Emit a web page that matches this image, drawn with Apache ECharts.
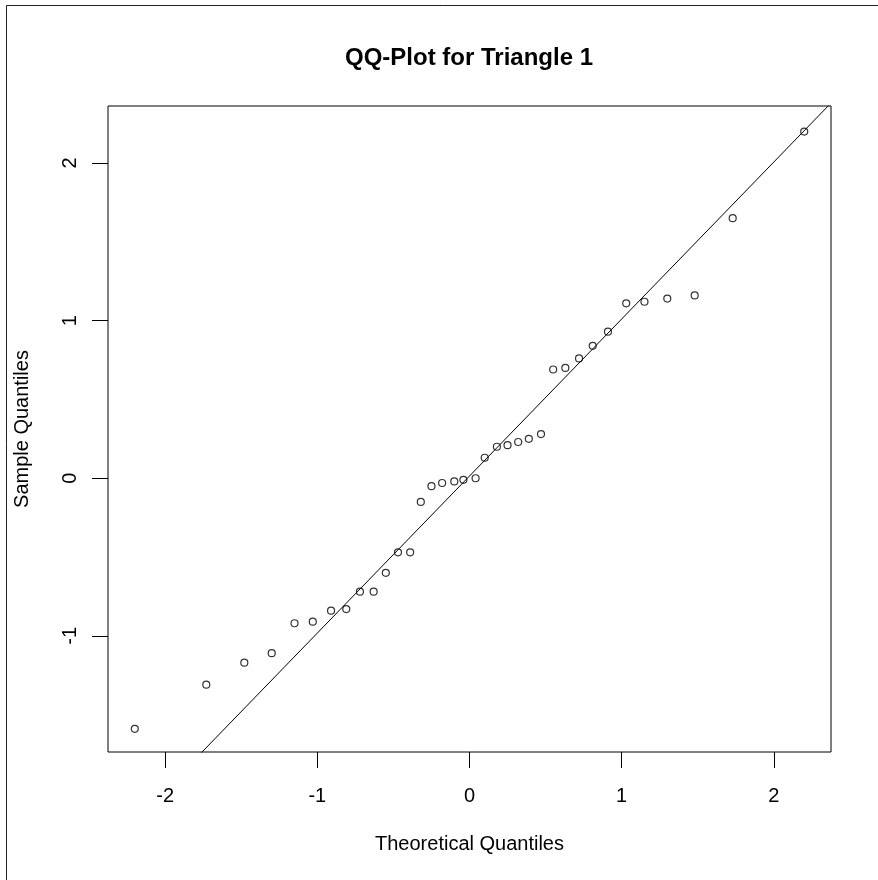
<!DOCTYPE html>
<html>
<head>
<meta charset="utf-8">
<title>QQ-Plot for Triangle 1</title>
<script src="https://cdn.jsdelivr.net/npm/echarts@6/dist/echarts.min.js"></script>
<style>
  html, body { margin: 0; padding: 0; background: #fff; }
  #main { width: 878px; height: 880px; }
</style>
</head>
<body>
<div id="main"></div>
<script>
// theoretical quantiles (x) and sample quantiles (y)
var theoretical = [
  -2.20, -1.73, -1.48, -1.30, -1.15, -1.03, -0.91, -0.81, -0.72, -0.63, -0.55, -0.47,
  -0.39, -0.32, -0.25, -0.18, -0.10, -0.04, 0.04, 0.10, 0.18, 0.25, 0.32, 0.39,
  0.47, 0.55, 0.63, 0.72, 0.81, 0.91, 1.03, 1.15, 1.30, 1.48, 1.73, 2.20
];
var sample = [
  -1.59, -1.31, -1.17, -1.11, -0.92, -0.91, -0.84, -0.83, -0.72, -0.72, -0.60, -0.47,
  -0.47, -0.15, -0.05, -0.03, -0.02, -0.01, 0.00, 0.13, 0.20, 0.21, 0.23, 0.25,
  0.28, 0.69, 0.70, 0.76, 0.84, 0.93, 1.11, 1.12, 1.14, 1.16, 1.65, 2.20
];
// reference line end points (clipped by the plot box)
var refLine = [[-2.6, -2.576], [2.6, 2.604]];

var xTicks = [-2, -1, 0, 1, 2];
var yTicks = [-1, 0, 1, 2];
var xRange = [-2.376, 2.376];
var yRange = [-1.737, 2.362];

var font = "'Liberation Sans', Arial, sans-serif";

var myChart = echarts.init(document.getElementById("main"));

var points = theoretical.map(function (x, i) {
  return [x, sample[i]];
});

var option = {
  backgroundColor: "#fff",
  animation: false,
  graphic: [
    {
      // outer frame of the device
      type: "rect",
      shape: { x: 6.5, y: 5.5, width: 1000, height: 1000 },
      style: { fill: null, stroke: "#222", lineWidth: 1 },
      silent: true
    },
    {
      type: "text",
      x: 469,
      y: 58,
      style: {
        text: "QQ-Plot for Triangle 1",
        font: "bold 24px " + font,
        fill: "#000",
        textAlign: "center",
        textVerticalAlign: "middle"
      }
    }
  ],
  grid: {
    left: 108,
    right: 47,
    top: 106,
    bottom: 128,
    show: true,
    borderColor: "#000",
    borderWidth: 1,
    backgroundColor: "transparent"
  },
  xAxis: {
    type: "value",
    min: xRange[0],
    max: xRange[1],
    name: "Theoretical Quantiles",
    nameLocation: "middle",
    nameGap: 82,
    nameTextStyle: { fontFamily: font, fontSize: 20, color: "#000" },
    axisLine: { show: false, onZero: false },
    axisTick: {
      show: true,
      inside: false,
      length: 16,
      customValues: xTicks,
      lineStyle: { color: "#000", width: 1 }
    },
    axisLabel: {
      customValues: xTicks,
      margin: 34,
      fontFamily: font,
      fontSize: 20,
      color: "#000"
    },
    splitLine: { show: false }
  },
  yAxis: {
    type: "value",
    min: yRange[0],
    max: yRange[1],
    name: "Sample Quantiles",
    nameLocation: "middle",
    nameGap: 76,
    nameTextStyle: { fontFamily: font, fontSize: 20, color: "#000" },
    axisLine: { show: false, onZero: false },
    axisTick: {
      show: true,
      inside: false,
      length: 16,
      customValues: yTicks,
      lineStyle: { color: "#000", width: 1 }
    },
    axisLabel: {
      customValues: yTicks,
      rotate: 90,
      margin: 28,
      fontFamily: font,
      fontSize: 20,
      color: "#000"
    },
    splitLine: { show: false }
  },
  series: [
    {
      type: "line",
      data: refLine,
      clip: true,
      symbol: "none",
      lineStyle: { color: "#000", width: 1 },
      silent: true
    },
    {
      type: "scatter",
      data: points,
      symbol: "circle",
      symbolSize: 7,
      itemStyle: {
        color: "transparent",
        borderColor: "#000",
        borderWidth: 1.2
      }
    }
  ]
};

myChart.setOption(option);
</script>
</body>
</html>
